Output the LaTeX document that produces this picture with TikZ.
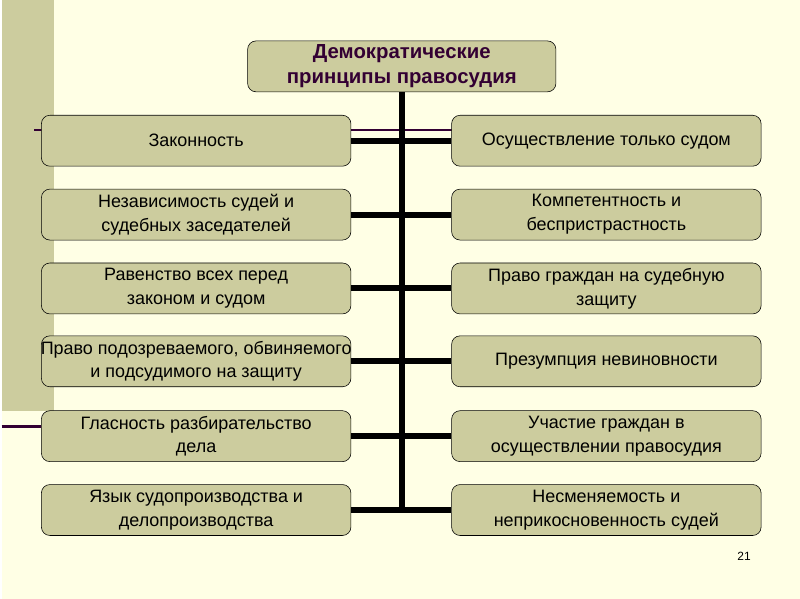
\documentclass[tikz,border=0pt]{standalone}
\usepackage{fontspec}
\setmainfont{Liberation Sans}
\usetikzlibrary{positioning}
\definecolor{slidebg}{RGB}{255,255,229}
\definecolor{khaki}{RGB}{204,204,158}
\definecolor{plum}{RGB}{51,0,51}

\begin{document}
\begin{tikzpicture}[
  x=0.025cm, y=-0.025cm,
  font=\fontsize{12.8}{17}\selectfont,
  box/.style={draw=black, rounded corners=6pt, fill=khaki, align=center, minimum width=7.75cm, minimum height=1.275cm, inner sep=1pt},
  head/.style={box, font=\fontsize{14.5}{17.5}\selectfont\bfseries, text=plum, minimum width=7.72cm},
  link/.style={line width=4.3pt},
  deco/.style={plum, line width=1.4pt}
]
% slide background
\fill[slidebg] (0,0) rectangle (800,600);
\fill[khaki] (0,0) rectangle (53,412);
\draw[deco] (33,130) -- (456,130);
\draw[deco, line width=2.2pt] (0,427) -- (40,427);

\node[head] (title) at (401,66.5) {Демократические\\ принципы правосудия};

% left column
\node[box] (l1) at (195,141) {Законность};
\node[box] (l2) at (195,215) {Независимость судей и\\ судебных заседателей};
\node[box] (l3) at (195,289) {Равенство всех перед\\ законом и судом};
\node[box] (l4) at (195,362) {\makebox[7cm]{Право подозреваемого, обвиняемого}\\ и подсудимого на защиту};
\node[box] (l5) at (195,437) {Гласность разбирательство\\ дела};
\node[box] (l6) at (195,511) {Язык судопроизводства и\\ делопроизводства};

% right column
\node[box] (r1) at (606,141) {Осуществление только судом};
\node[box] (r2) at (606,215) {Компетентность и\\ беспристрастность};
\node[box] (r3) at (606,289) {Право граждан на судебную\\ защиту};
\node[box] (r4) at (606,362) {Презумпция невиновности};
\node[box] (r5) at (606,437) {Участие граждан в\\ осуществлении правосудия};
\node[box] (r6) at (606,511) {Несменяемость и\\ неприкосновенность судей};

% connectors
\draw[link] (title.south) -- (title.south |- l6.east);
\draw[link] (l1) -- (r1);
\draw[link] (l2) -- (r2);
\draw[link] (l3) -- (r3);
\draw[link] (l4) -- (r4);
\draw[link] (l5) -- (r5);
\draw[link] (l6) -- (r6);

\node[font=\fontsize{8.5}{10}\selectfont] (pgno) at (744,557) {21};
\end{tikzpicture}
\end{document}
